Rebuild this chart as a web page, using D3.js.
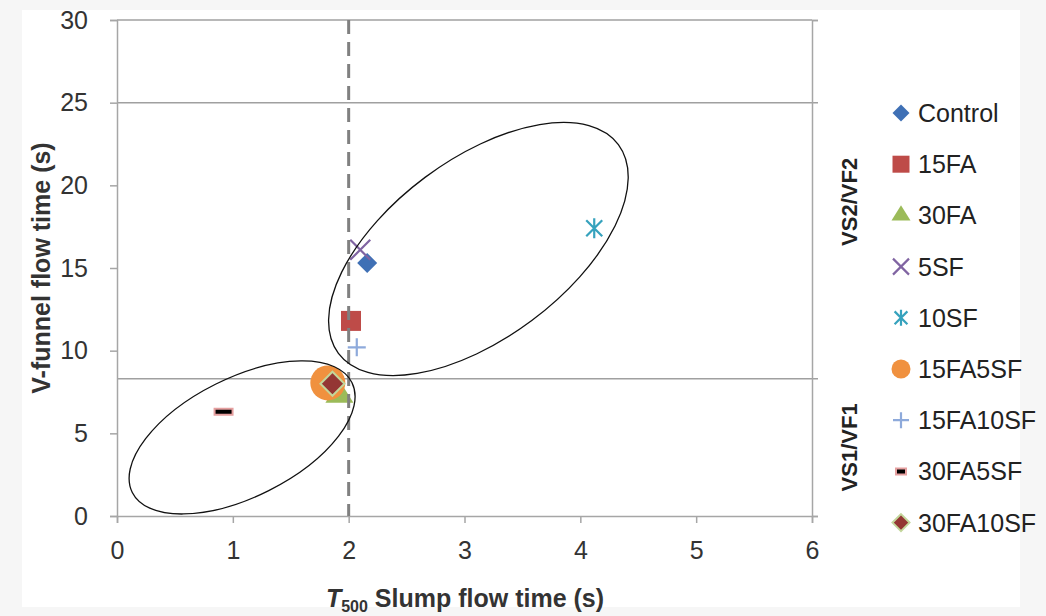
<!DOCTYPE html>
<html>
<head>
<meta charset="utf-8">
<script src="https://cdnjs.cloudflare.com/ajax/libs/d3/7.8.5/d3.min.js"></script>
<style>
  html, body { margin: 0; padding: 0; background: #f6f6f6; }
  svg { display: block; font-family: "Liberation Sans", Arial, sans-serif; }
</style>
</head>
<body>
<svg id="chart" width="1046" height="616"></svg>
<script>
// ---------- data ----------
const seriesNames = ["Control", "15FA", "30FA", "5SF", "10SF", "15FA5SF", "15FA10SF", "30FA5SF", "30FA10SF"];
const slumpT500   = [2.16, 2.02, 1.92, 2.10, 4.12, 1.82, 2.07, 0.92, 1.86];
const vFunnelTime = [15.3, 11.8, 7.3, 16.1, 17.4, 8.05, 10.2, 6.3, 8.0];
const xTickValues = [0, 1, 2, 3, 4, 5, 6];
const yTickValues = [0, 5, 10, 15, 20, 25, 30];
const vfLimits    = [8.3, 25];
const vsLimit     = [2];
const classLabels = ["VS2/VF2", "VS1/VF1"];
const classLabelY = [19, 4.15];
// ellipses (centre in data units)
const ellipseCx = [3.12, 1.08];
const ellipseCy = [16.15, 4.75];

// ---------- styling ----------
const markerStyle = {
  "Control":  {shape: "diamond",  fill: "#3f70b5", stroke: "none", size: 20},
  "15FA":     {shape: "square",   fill: "#be4b48", stroke: "none", size: 20},
  "30FA":     {shape: "triangle", fill: "#9bbb59", stroke: "none", size: 28},
  "5SF":      {shape: "x",        fill: "none", stroke: "#8064a2", size: 20},
  "10SF":     {shape: "star",     fill: "none", stroke: "#36a2bd", size: 20},
  "15FA5SF":  {shape: "circle",   fill: "#f0913f", stroke: "none", size: 35},
  "15FA10SF": {shape: "plus",     fill: "none", stroke: "#8eaadb", size: 18},
  "30FA5SF":  {shape: "dash",     fill: "#000", stroke: "#e6a0a0", size: 18},
  "30FA10SF": {shape: "diamond",  fill: "#943634", stroke: "#c3d69b", size: 24}
};
const legendStyle = {
  "Control":  {size: 17}, "15FA": {size: 17}, "30FA": {size: 19}, "5SF": {size: 16},
  "10SF": {size: 16}, "15FA5SF": {size: 19}, "15FA10SF": {size: 16}, "30FA5SF": {size: 10},
  "30FA10SF": {size: 17}
};

const svg = d3.select("#chart");
svg.append("rect").attr("x", 0).attr("y", 0).attr("width", 1046).attr("height", 616).attr("fill", "#f6f6f6");
svg.append("rect").attr("x", 22).attr("y", 10).attr("width", 998).attr("height", 597).attr("fill", "#ffffff");

const x = d3.scaleLinear().domain([0, 6]).range([117, 812]);
const y = d3.scaleLinear().domain([0, 30]).range([516, 20]);

const axisColor = "#a6a6a6";
const g = svg.append("g");

// horizontal class limit lines
g.selectAll("line.vf").data(vfLimits).enter().append("line")
  .attr("x1", x(0)).attr("x2", x(6) + 6)
  .attr("y1", d => y(d)).attr("y2", d => y(d))
  .attr("stroke", "#a0a0a0").attr("stroke-width", 1.5);

// top border
g.append("line").attr("x1", x(0)).attr("x2", x(6)).attr("y1", y(30)).attr("y2", y(30))
  .attr("stroke", "#a0a0a0").attr("stroke-width", 1.5);

// right axis
const yRight = d3.axisRight(y).tickValues([0, 30]).tickSize(6).tickFormat("");
const gr = g.append("g").attr("transform", `translate(${x(6)},0)`).call(yRight);
gr.selectAll("path,line").attr("stroke", axisColor).attr("stroke-width", 1.5);

// left axis
const yAxis = d3.axisLeft(y).tickValues(yTickValues).tickSize(7).tickPadding(22).tickFormat(d3.format("d"));
const gy = g.append("g").attr("transform", `translate(${x(0)},0)`).call(yAxis);
gy.select(".domain").attr("stroke", axisColor).attr("stroke-width", 1.5);
gy.selectAll(".tick line").attr("stroke", axisColor).attr("stroke-width", 1.5);
gy.selectAll(".tick text").attr("font-size", 25).attr("fill", "#333").attr("font-family", "Liberation Sans, Arial");

// bottom axis
const xAxis = d3.axisBottom(x).tickValues(xTickValues).tickSize(7).tickPadding(18).tickFormat(d3.format("d"));
const gx = g.append("g").attr("transform", `translate(0,${y(0)})`).call(xAxis);
gx.select(".domain").attr("stroke", axisColor).attr("stroke-width", 1.5);
gx.selectAll(".tick line").attr("stroke", axisColor).attr("stroke-width", 1.5);
gx.selectAll(".tick text").attr("font-size", 25).attr("fill", "#333").attr("font-family", "Liberation Sans, Arial");

// marker path generator
function markerPath(shape, s) {
  const h = s / 2;
  switch (shape) {
    case "diamond": return `M0,${-h}L${h},0L0,${h}L${-h},0Z`;
    case "square": return `M${-h},${-h}H${h}V${h}H${-h}Z`;
    case "triangle": { const th = s * 0.8; return `M0,${-th * 2 / 3}L${h},${th / 3}L${-h},${th / 3}Z`; }
    case "x": return `M${-h},${-h}L${h},${h}M${-h},${h}L${h},${-h}`;
    case "star": return `M${-h * 0.8},${-h * 0.8}L${h * 0.8},${h * 0.8}M${-h * 0.8},${h * 0.8}L${h * 0.8},${-h * 0.8}M0,${-h}V${h}`;
    case "plus": return `M${-h},0H${h}M0,${-h}V${h}`;
    case "dash": return `M${-h},${-3}H${h}V${3}H${-h}Z`;
    case "circle": return d3.arc()({innerRadius: 0, outerRadius: h, startAngle: 0, endAngle: 2 * Math.PI});
  }
}
function drawMarker(sel, name, size) {
  const st = markerStyle[name];
  const p = sel.append("path").attr("d", markerPath(st.shape, size));
  if (["x", "star", "plus"].includes(st.shape)) {
    p.attr("fill", "none").attr("stroke", st.stroke).attr("stroke-width", 2.2);
  } else if (st.shape === "dash") {
    p.attr("fill", st.fill).attr("stroke", st.stroke).attr("stroke-width", 2);
  } else {
    p.attr("fill", st.fill);
    if (st.stroke !== "none") p.attr("stroke", st.stroke).attr("stroke-width", 2);
  }
  return p;
}

// points
const pts = seriesNames.map((n, i) => ({name: n, x: slumpT500[i], y: vFunnelTime[i]}));
const gp = svg.append("g");
pts.forEach(d => {
  const m = gp.append("g").attr("transform", `translate(${x(d.x)},${y(d.y)})`);
  drawMarker(m, d.name, markerStyle[d.name].size);
});

// vertical dashed limit
svg.selectAll("line.vs").data(vsLimit).enter().append("line")
  .attr("x1", d => x(d)).attr("x2", d => x(d))
  .attr("y1", y(30)).attr("y2", y(0))
  .attr("stroke", "#808080").attr("stroke-width", 3).attr("stroke-dasharray", "14,8");

// ellipses
const ellipseRx = [174.6, 122.8];
const ellipseRy = [89.3, 59.5];
const ellipseRot = [-36.7, -26.6];
ellipseCx.forEach((cx, i) => {
  svg.append("ellipse")
    .attr("transform", `translate(${x(cx)},${y(ellipseCy[i])}) rotate(${ellipseRot[i]})`)
    .attr("rx", ellipseRx[i]).attr("ry", ellipseRy[i])
    .attr("fill", "none").attr("stroke", "#111").attr("stroke-width", 1.3);
});

// class labels on right
classLabels.forEach((t, i) => {
  svg.append("text")
    .attr("transform", `translate(857,${y(classLabelY[i])}) rotate(-90)`)
    .attr("text-anchor", "middle")
    .attr("font-size", 22).attr("font-weight", "bold").attr("fill", "#222")
    .text(t);
});

// axis titles
svg.append("text")
  .attr("transform", `translate(50,${(y(0) + y(30)) / 2}) rotate(-90)`)
  .attr("text-anchor", "middle").attr("font-size", 25).attr("font-weight", "bold").attr("fill", "#333")
  .text("V-funnel flow time (s)");

const xt = svg.append("text")
  .attr("x", 465).attr("y", 607)
  .attr("text-anchor", "middle").attr("font-size", 25).attr("font-weight", "bold").attr("fill", "#333");
xt.append("tspan").attr("font-style", "italic").text("T");
xt.append("tspan").attr("font-size", 16).attr("dy", 5).text("500");
xt.append("tspan").attr("dy", -5).text(" Slump flow time (s)");

// legend
const legend = svg.append("g");
seriesNames.forEach((n, i) => {
  const ly = 113 + i * 51.2;
  const m = legend.append("g").attr("transform", `translate(901,${ly})`);
  drawMarker(m, n, legendStyle[n].size);
  legend.append("text").attr("x", 918).attr("y", ly).attr("dy", "0.36em")
    .attr("font-size", 25).attr("fill", "#222").text(n);
});
</script>
</body>
</html>
